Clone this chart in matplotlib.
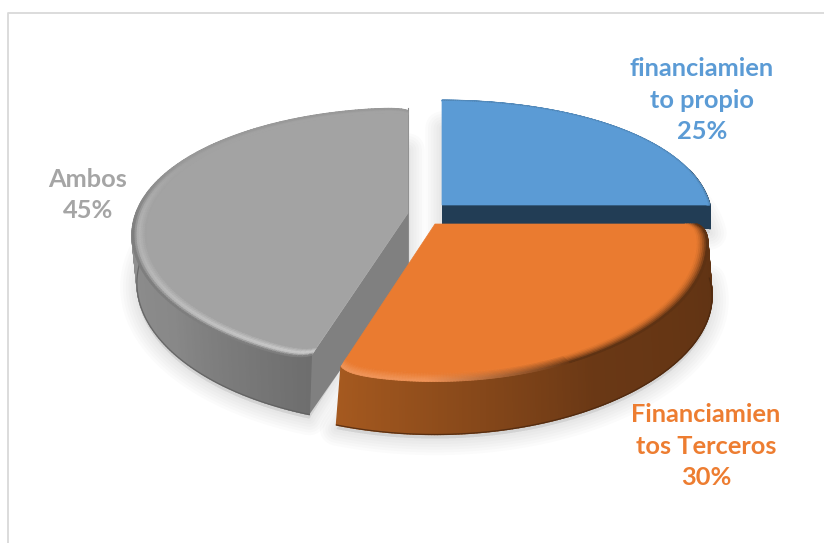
import numpy as np
import matplotlib
matplotlib.use('Agg')
import matplotlib.pyplot as plt
from matplotlib.collections import PolyCollection
from matplotlib.colors import to_rgb

names = ['financiamien\nto propio', 'Financiamien\ntos Terceros', 'Ambos']
values = [25, 30, 45]
top_colors = ['#5b9bd5', '#ea7b30', '#a3a3a3']
label_colors = ['#5b9bd5', '#ed7d31', '#a5a5a5']

# centre of each exploded slice, in pixels
centers = [(442, 205), (435, 224), (408, 213)]
label_pos = [(702, 100), (706, 446), (88, 195)]
# per slice perspective
rx = [268, 270, 272]
ry = [126, 126, 126]
kx = [0.12, 0.15, 0.17]
ky = [0.2, 0.2, 0.2]
# wall depth = a + b*sin(theta), base shifted sideways by sx*cos(theta)
wall_a = [24, 53, 46]
wall_b = [0, 0, -8]
wall_sx = [0, 4, -5]

plt.rcParams['font.family'] = ['Lato', 'DejaVu Sans']

fig = plt.figure(figsize=(8.24, 5.43), dpi=100)
ax = fig.add_axes([0, 0, 1, 1])
ax.set_xlim(0, 824)
ax.set_ylim(543, 0)
ax.axis('off')


def project(i, theta, r):
    c = centers[i]
    u = r * np.cos(theta)
    v = r * np.sin(theta)
    return c[0] + rx[i] * u / (1 + kx[i] * v), c[1] - ry[i] * v / (1 + ky[i] * v)


def base(i, theta):
    x, y = project(i, theta, 1)
    return x + wall_sx[i] * np.cos(theta), y + wall_a[i] + wall_b[i] * np.sin(theta)


def mix(a, b, t):
    a, b = np.array(to_rgb(a)), np.array(to_rgb(b))
    return tuple(a + (b - a) * t)


# slice angles come from the values, clockwise from 12 o'clock
edges = np.pi / 2 - 2 * np.pi * np.cumsum([0] + values) / sum(values)
arcs = [np.linspace(edges[i], edges[i + 1], 200) for i in range(3)]


def wall_color(i, f):
    if i == 1:
        # f: 0 right end, 1 left corner
        if f < 0.55:
            return mix('#5e3213', '#6a3815', f / 0.55)
        return mix('#6a3815', '#a5591f', (f - 0.55) / 0.45)
    if i == 2:
        # f: 0 at the front corner
        if f < 0.2:
            return mix('#6e6e6e', '#888888', f / 0.2)
        return mix('#888888', '#929292', min((f - 0.2) * 3, 1))
    return '#223d55'


def rim_color(i, f, t, theta):
    # t: 0 inner side of the bevel, 1 outer edge
    top = top_colors[i]
    if i == 0:
        return mix(top, '#5288b8', max(0, t - 0.6) / 0.4)
    if i == 1:
        if f > 0.6:
            k = (f - 0.6) / 0.4
            edge = mix('#6a3815', '#f09458', min(k * 1.6, 1))
            return mix(top, edge, t)
        return mix(top, '#5e3213', t ** 1.5)
    # grey bevel fades out towards the back
    fade = np.clip((0.45 - np.sin(theta)) / 0.6, 0, 1)
    light = mix('#d2d2d2', '#b8b8b8', min(f * 3, 1))
    if t < 0.6:
        return mix(top, mix(top, light, fade), t / 0.6)
    return mix(mix(top, light, fade), mix('#999999', '#7e7e7e', fade), (t - 0.6) / 0.4)


def corner(i, th):
    # rounded outer corners of the front slices
    if i == 0:
        return np.ones_like(th)
    d = np.minimum(np.abs(th - th[0]), np.abs(th - th[-1]))
    return 1 - 0.03 * np.exp(-d / 0.035)


def draw_wall(i, z, edge_color=None):
    th = arcs[i]
    rr = corner(i, th)
    polys, cols = [], []
    for j in range(len(th) - 1):
        # the back of the blue wall would stick out behind the top
        if i == 0 and th[j] > 0.3:
            continue
        x0, y0 = project(i, th[j], rr[j])
        x1, y1 = project(i, th[j + 1], rr[j + 1])
        bx0, by0 = base(i, th[j])
        bx1, by1 = base(i, th[j + 1])
        polys.append([(x0, y0), (x1, y1), (bx1, by1), (bx0, by0)])
        cols.append(wall_color(i, j / (len(th) - 2)))
    ax.add_collection(PolyCollection(polys, facecolors=cols, edgecolors=cols, linewidths=1, zorder=z))
    if edge_color:
        keep = np.sin(th) < 0
        bx, by = base(i, th[keep])
        ax.plot(bx, by, color=edge_color, lw=0.9, alpha=0.8, zorder=z)


def draw_top(i, bevel, z):
    th = arcs[i]
    c = centers[i]
    rr = corner(i, th)
    x, y = project(i, th, (1 - bevel) * rr)
    ax.fill(np.r_[c[0], x], np.r_[c[1], y], color=top_colors[i], lw=0.5, zorder=z)
    rs = np.linspace(1 - bevel, 1, 8)
    polys, cols = [], []
    for j in range(len(th) - 1):
        for n in range(len(rs) - 1):
            xa, ya = project(i, th[j], rs[n] * rr[j])
            xb, yb = project(i, th[j + 1], rs[n] * rr[j + 1])
            xc, yc = project(i, th[j + 1], rs[n + 1] * rr[j + 1])
            xd, yd = project(i, th[j], rs[n + 1] * rr[j])
            polys.append([(xa, ya), (xb, yb), (xc, yc), (xd, yd)])
            cols.append(rim_color(i, j / (len(th) - 2), n / (len(rs) - 2), th[j]))
    ax.add_collection(PolyCollection(polys, facecolors=cols, edgecolors=cols, linewidths=0.6, zorder=z))


def draw_shadow(i):
    x, y = base(i, arcs[i])
    x = np.r_[centers[i][0], x]
    y = np.r_[centers[i][1] + 50, y + 4]
    for lw in [24, 20, 16, 12, 8, 4]:
        ax.fill(x, y, facecolor='#808080', edgecolor='#808080', alpha=0.03, lw=lw, joinstyle='round', zorder=1)


# page frame
ax.plot([8.5, 8.5, 824], [543, 12.5, 12.5], color='#d9d9d9', lw=1.3, zorder=0)

for i in [0, 1, 2]:
    draw_shadow(i)

# blue slice, behind the others
c = centers[0]
xe, ye = project(0, edges[1], 1)
ax.fill([c[0], xe, xe, c[0]], [c[1], ye, ye + wall_a[0], c[1] + wall_a[0]], color='#223d55', lw=0, zorder=2)
draw_wall(0, 2)
draw_top(0, 0.012, 2)

# grey slice and its cut face
c = centers[2]
xe, ye = base(2, edges[2])
xs, ys = project(2, edges[2], 1)
ax.fill([c[0], xs, xe, c[0]], [c[1], ys, ye, c[1] + 60], color='#808080', lw=0, zorder=3)
draw_wall(2, 3, '#5f5f5f')
ax.plot([c[0], c[0]], [project(2, edges[3], 1)[1], c[1] + 60], color='#8a8a8a', lw=0.8, zorder=3)
draw_top(2, 0.05, 3)

# orange slice, in front
draw_wall(1, 4, '#4a270f')
draw_top(1, 0.045, 4)

for i in range(3):
    ax.text(label_pos[i][0], label_pos[i][1], f'{names[i]}\n{values[i]}%',
            color=label_colors[i], fontsize=18.3, fontweight='bold', zorder=5,
            ha='center', va='center', multialignment='center', linespacing=1.47)

fig.savefig('out.png', dpi=100)
